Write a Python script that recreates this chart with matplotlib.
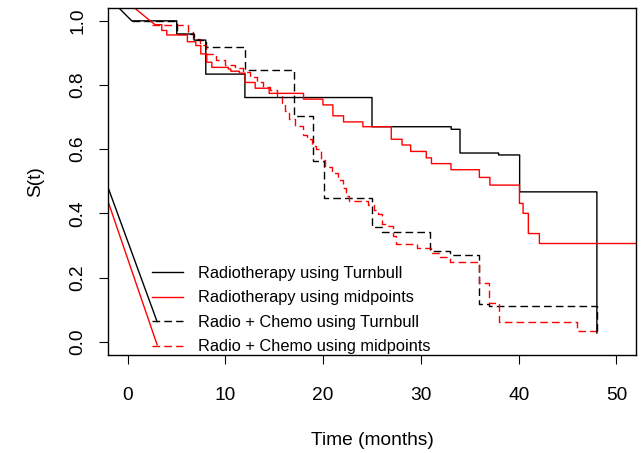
import numpy as np
import matplotlib
import matplotlib.pyplot as plt
from matplotlib.lines import Line2D

matplotlib.use('Agg')
plt.rcParams['font.family'] = ['Liberation Sans', 'DejaVu Sans']

# Radiotherapy, Turnbull estimate (time in months, survival after the jump)
radio_tb_time = [0.43, 5.03, 6.8, 8.0, 12.0, 25.0, 33.1, 34.0, 37.95, 40.1, 48.0]
radio_tb_surv = [1.0, 0.959, 0.94, 0.834, 0.761, 0.670, 0.662, 0.588, 0.582, 0.467, 0.027]
radio_tb_lead = (-1.6, 1.062)

# Radiotherapy, midpoint imputation
radio_mid_time = [2.81, 3.5, 4.01, 6.12, 6.98, 7.49, 8.1, 8.62, 10.3, 10.56, 11.44, 12.03,
                  13.05, 14.48, 18.0, 19.98, 21.0, 22.09, 24.07, 26.97, 28.07, 28.95,
                  30.55, 31.08, 33.08, 35.98, 37.06, 40.08, 40.45, 40.99, 42.12, 52.5]
radio_mid_surv = [0.988, 0.970, 0.956, 0.935, 0.923, 0.897, 0.871, 0.855, 0.850, 0.843, 0.837,
                  0.808, 0.790, 0.774, 0.756, 0.738, 0.704, 0.685, 0.670, 0.631, 0.613, 0.593,
                  0.573, 0.555, 0.536, 0.512, 0.488, 0.431, 0.400, 0.337, 0.306, 0.306]
radio_mid_lead = (-0.5, 1.07)

# Radio + chemo, Turnbull estimate
chemo_tb_time = [0.43, 5.03, 6.8, 8.0, 12.03, 17.04, 18.96, 20.04, 25.0, 26.02, 30.96,
                 33.0, 35.9, 36.93, 48.0]
chemo_tb_surv = [1.0, 0.959, 0.94, 0.917, 0.848, 0.702, 0.563, 0.448, 0.356, 0.342, 0.283,
                 0.269, 0.119, 0.1125, 0.027]

# Radio + chemo, midpoint imputation
chemo_mid_time = [2.5, 6.2, 6.7, 7.4, 8.0, 9.0, 10.0, 11.0, 11.8, 12.5, 13.2, 13.9, 14.6,
                  15.3, 15.8, 16.1, 16.5, 17.1, 17.9, 18.4, 18.9, 19.3, 19.8, 20.2, 20.9,
                  21.5, 22.0, 22.3, 22.6, 24.6, 25.2, 25.6, 26.0, 26.4, 27.1, 27.5, 29.6,
                  31.0, 32.0, 33.0, 35.9, 37.0, 38.0, 46.0, 48.0]
chemo_mid_surv = [0.988, 0.965, 0.944, 0.925, 0.897, 0.878, 0.862, 0.852, 0.840, 0.825,
                  0.810, 0.795, 0.785, 0.765, 0.745, 0.720, 0.695, 0.672, 0.645, 0.633,
                  0.610, 0.600, 0.565, 0.544, 0.525, 0.505, 0.480, 0.455, 0.438, 0.425,
                  0.410, 0.397, 0.366, 0.360, 0.330, 0.305, 0.292, 0.275, 0.263, 0.247,
                  0.183, 0.122, 0.060, 0.034, 0.034]

# stray segments running into the legend
stray_time = [-2.6, 3.02]
stray_black = [0.531, 0.0625]
stray_red = [0.491, -0.0094]

labels = ["Radiotherapy using Turnbull", "Radiotherapy using midpoints",
          "Radio + Chemo using Turnbull", "Radio + Chemo using midpoints"]

DASH = (0, (5.5, 3))


def stairs(times, surv, lead=None):
    x = list(np.repeat(times, 2)[1:])
    y = list(np.repeat(surv, 2)[:-1])
    if lead is not None:
        x = [lead[0]] + x
        y = [lead[1]] + y
    return x, y


fig = plt.figure(figsize=(6.41, 4.53), dpi=100)
ax = fig.add_axes([0.1685, 0.2174, 0.8237, 0.7649])

ax.plot(*stairs(chemo_tb_time, chemo_tb_surv), color='black', lw=1.0, linestyle=DASH)
ax.plot(*stairs(chemo_mid_time, chemo_mid_surv), color='#ff0000', lw=1.0, linestyle=DASH)
ax.plot(*stairs(radio_tb_time, radio_tb_surv, radio_tb_lead), color='black', lw=1.0)
ax.plot(*stairs(radio_mid_time, radio_mid_surv, radio_mid_lead), color='#ff0000', lw=1.0)
ax.plot(stray_time, stray_black, color='black', lw=1.0)
ax.plot(stray_time, stray_red, color='#ff0000', lw=1.0)

ax.set_xlim(-2, 52)
ax.set_ylim(-0.04, 1.04)
ax.set_xticks([0, 10, 20, 30, 40, 50])
ax.set_yticks([0.0, 0.2, 0.4, 0.6, 0.8, 1.0])
ax.set_yticklabels(["0.0", "0.2", "0.4", "0.6", "0.8", "1.0"])
ax.tick_params(length=6.8, width=0.8, labelsize=13.8)
ax.tick_params(axis='x', pad=16.8)
ax.tick_params(axis='y', pad=9, labelrotation=90)
for t in ax.get_yticklabels():
    t.set_va('center')
for s in ax.spines.values():
    s.set_linewidth(1.0)

ax.set_xlabel("Time (months)", fontsize=13.8)
ax.set_ylabel("S(t)", fontsize=13.8)
ax.xaxis.label.set_va('center')
ax.yaxis.label.set_va('center')
ax.xaxis.set_label_coords(0.5, -0.247)
ax.yaxis.set_label_coords(-0.137, 0.5)

handles = [Line2D([], [], color='black', lw=1.0),
           Line2D([], [], color='#ff0000', lw=1.0),
           Line2D([], [], color='black', lw=1.0, linestyle=DASH),
           Line2D([], [], color='#ff0000', lw=1.0, linestyle=DASH)]
ax.legend(handles, labels, loc='upper left', bbox_to_anchor=(0.083, 0.256),
          frameon=False, fontsize=11.8, handlelength=1.9, handletextpad=0.9,
          labelspacing=0.58, borderpad=0, borderaxespad=0)

plt.savefig("out.png", dpi=100)
